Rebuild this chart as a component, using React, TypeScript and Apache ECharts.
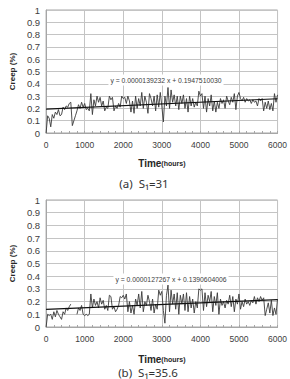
import React, { useEffect, useRef } from "react";
import * as echarts from "echarts";

// Sampling interval of the creep records (hours)
const timeStepHours = 40;
const xTickValues = [0, 1000, 2000, 3000, 4000, 5000, 6000];
const yTickLabels = ["0", "0.1", "0.2", "0.3", "0.4", "0.5", "0.6", "0.7", "0.8", "0.9", "1"];

// (a) S1 = 31 : creep (%) every 40 h, 0 .. 6000 h
const creepA: (number | null)[] = [
  0.0, 0.14, 0.12, 0.05, 0.15, 0.12, 0.17, 0.15, 0.19, 0.14, 0.15, 0.21, 0.19, 0.22, 0.21, 0.24, 0.25, 0.06, 0.1, 0.14, 0.18, 0.23, 0.2, 0.25, 0.21,
  0.24, 0.19, 0.2, 0.18, 0.32, 0.15, 0.27, 0.22, 0.3, 0.25, 0.29, 0.22, 0.26, 0.18, 0.21, 0.2, 0.3, 0.27, 0.29, 0.18, 0.22, 0.2, 0.24, 0.21, 0.3,
  0.28, 0.29, 0.24, 0.3, 0.26, 0.17, 0.26, 0.16, 0.3, 0.2, 0.28, 0.22, 0.33, 0.2, 0.3, 0.25, 0.16, 0.32, 0.28, 0.22, 0.3, 0.18, 0.31, 0.21, 0.33,
  0.22, 0.09, 0.3, 0.22, 0.37, 0.2, 0.35, 0.25, 0.31, 0.22, 0.3, 0.19, 0.3, 0.24, 0.31, 0.2, 0.28, 0.17, 0.3, 0.22, 0.28, 0.21, 0.25, 0.22, 0.34,
  0.3, 0.32, 0.2, 0.3, 0.17, 0.28, 0.22, 0.31, 0.18, 0.26, 0.17, 0.25, 0.2, 0.28, 0.24, 0.27, 0.2, 0.3, 0.26, 0.23, 0.29, 0.25, 0.32, 0.19, 0.3,
  0.33, 0.28, 0.26, 0.29, 0.25, 0.28, 0.26, 0.27, 0.24, 0.27, 0.25, 0.26, 0.22, 0.28, 0.26, 0.28, 0.18, 0.25, 0.2, 0.26, 0.19, 0.24, 0.18, 0.32, 0.25,
  0.31,
];

// (b) S1 = 35.6 : creep (%) every 40 h, 0 .. 6000 h (gap ~650-790 h)
const creepB: (number | null)[] = [
  0.0, 0.1, 0.09, 0.1, 0.06, 0.12, 0.08, 0.13, 0.1, 0.08, 0.06, 0.12, 0.1, 0.15, 0.13, 0.16, 0.18, null, null, null, 0.1, 0.15, 0.13, 0.17, 0.1,
  0.09, 0.1, 0.09, 0.1, 0.26, 0.15, 0.22, 0.17, 0.2, 0.15, 0.23, 0.18, 0.21, 0.14, 0.17, 0.13, 0.25, 0.24, 0.14, 0.16, 0.12, 0.14, 0.17, 0.24, 0.23,
  0.25, 0.22, 0.26, 0.12, 0.2, 0.11, 0.17, 0.1, 0.22, 0.17, 0.26, 0.15, 0.28, 0.12, 0.2, 0.17, 0.25, 0.2, 0.13, 0.22, 0.11, 0.18, 0.14, 0.29, 0.25,
  0.28, 0.13, 0.03, 0.25, 0.33, 0.12, 0.29, 0.18, 0.26, 0.14, 0.27, 0.1, 0.25, 0.18, 0.26, 0.13, 0.27, 0.12, 0.24, 0.15, 0.22, 0.11, 0.2, 0.15, 0.3,
  0.29, 0.3, 0.13, 0.27, 0.16, 0.25, 0.2, 0.28, 0.12, 0.24, 0.17, 0.27, 0.1, 0.22, 0.17, 0.2, 0.15, 0.21, 0.18, 0.25, 0.16, 0.24, 0.12, 0.22, 0.18,
  0.26, 0.14, 0.2, 0.16, 0.22, 0.18, 0.2, 0.17, 0.21, 0.19, 0.24, 0.18, 0.23, 0.2, 0.24, 0.21, 0.23, 0.09, 0.14, 0.19, 0.11, 0.21, 0.09, 0.15, 0.1,
  0.22,
];

// Linear trend lines y = m x + b
const trendSlopes = [0.0000139232, 0.0000127267];
const trendIntercepts = [0.194751003, 0.1390604006];
const equationTexts = ["y = 0.0000139232 x + 0.1947510030", "y = 0.0000127267 x + 0.1390604006"];
const captionTexts = ["(a)  S\u2081=31", "(b)  S\u2081=35.6"];

const toSeriesData = (vals: (number | null)[]) =>
  vals.map((v, i) => [i * timeStepHours, v === null ? "-" : v]);

const trendData = (k: number) => {
  const x0 = xTickValues[0];
  const x1 = xTickValues[xTickValues.length - 1];
  return [
    [x0, trendIntercepts[k] + trendSlopes[k] * x0],
    [x1, trendIntercepts[k] + trendSlopes[k] * x1],
  ];
};

const FONT = "'Liberation Sans', Arial, sans-serif";

export default function App() {
  const ref = useRef<HTMLDivElement>(null);
  useEffect(() => {
    if (!ref.current) return;
    const chart = echarts.init(ref.current, undefined, { renderer: "svg" });
    const grids = [
      { left: 32, top: 10, width: 247, height: 123 },
      { left: 30, top: 200, width: 253, height: 127 },
    ];
    const nameGaps = [25, 27];
    const xAxes = grids.map((_, k) => ({
      type: "value",
      gridIndex: k,
      min: 0,
      max: 6000,
      interval: 1000,
      axisLine: { lineStyle: { color: "#a6a6a6", width: 1 } },
      axisTick: { show: true, inside: true, length: 2, lineStyle: { color: "#a6a6a6" } },
      minorTick: { show: true, splitNumber: 5, length: 2, lineStyle: { color: "#a6a6a6" } },
      splitLine: { show: true, lineStyle: { color: "#c4c4c4", width: 1 } },
      axisLabel: {
        fontSize: 8.5,
        color: "#404040",
        margin: 7,
        fontFamily: FONT,
        formatter: (v: number) => String(v),
      },
      name: "{t|Time}{h|(hours)}",
      nameLocation: "middle",
      nameGap: nameGaps[k],
      nameTextStyle: {
        rich: {
          t: { fontSize: 10, fontWeight: "bold", color: "#262626", fontFamily: FONT },
          h: { fontSize: 7, fontWeight: "bold", color: "#262626", fontFamily: FONT },
        },
      },
    }));
    const yAxes = grids.map((_, k) => ({
      type: "value",
      gridIndex: k,
      min: 0,
      max: 1,
      interval: 0.1,
      axisLine: { show: true, lineStyle: { color: "#a6a6a6", width: 1 } },
      axisTick: { show: false },
      splitLine: { show: true, lineStyle: { color: "#c4c4c4", width: 1 } },
      axisLabel: {
        fontSize: 9.5,
        color: "#404040",
        margin: 6,
        fontFamily: FONT,
        formatter: (v: number) => yTickLabels[Math.round(v * 10)],
      },
      name: "Creep (%)",
      nameLocation: "middle",
      nameGap: 24,
      nameTextStyle: { fontSize: 8, fontWeight: "bold", color: "#262626", fontFamily: FONT },
    }));
    const dataSets = [creepA, creepB];
    const series: any[] = [];
    dataSets.forEach((d, k) => {
      series.push({
        type: "line",
        xAxisIndex: k,
        yAxisIndex: k,
        data: toSeriesData(d),
        showSymbol: false,
        connectNulls: false,
        lineStyle: { color: "#3a3a3a", width: 0.9 },
        z: 3,
      });
      series.push({
        type: "line",
        xAxisIndex: k,
        yAxisIndex: k,
        data: trendData(k),
        showSymbol: false,
        lineStyle: { color: "#111", width: 1.2 },
        z: 4,
      });
    });
    const eqPos = [
      { x: 166, y: 80 },
      { x: 171, y: 279 },
    ];
    const capPos = [
      { x: 144, y: 183 },
      { x: 148, y: 372 },
    ];
    const graphic: any[] = [];
    equationTexts.forEach((t, k) => {
      graphic.push({
        type: "text",
        x: eqPos[k].x,
        y: eqPos[k].y,
        z: 10,
        style: {
          text: t,
          fill: "#404040",
          font: `6.8px ${FONT}`,
          align: "center",
          verticalAlign: "middle",
          backgroundColor: "#ffffff",
          padding: [2, 2],
        },
      });
    });
    captionTexts.forEach((t, k) => {
      graphic.push({
        type: "text",
        x: capPos[k].x,
        y: capPos[k].y,
        style: {
          text: t,
          fill: "#333",
          font: `11.5px 'Noto Sans', sans-serif`,
          align: "center",
          verticalAlign: "middle",
        },
      });
    });
    chart.setOption({
      animation: false,
      backgroundColor: "#ffffff",
      grid: grids.map((g) => ({ ...g, show: true, borderColor: "#a6a6a6", borderWidth: 1, backgroundColor: "transparent" })),
      xAxis: xAxes,
      yAxis: yAxes,
      series,
      graphic,
    });
    return () => chart.dispose();
  }, []);
  return (
    <div
      ref={ref}
      style={{ position: "fixed", left: 0, top: 0, width: 290, height: 379, background: "#fff" }}
    />
  );
}
